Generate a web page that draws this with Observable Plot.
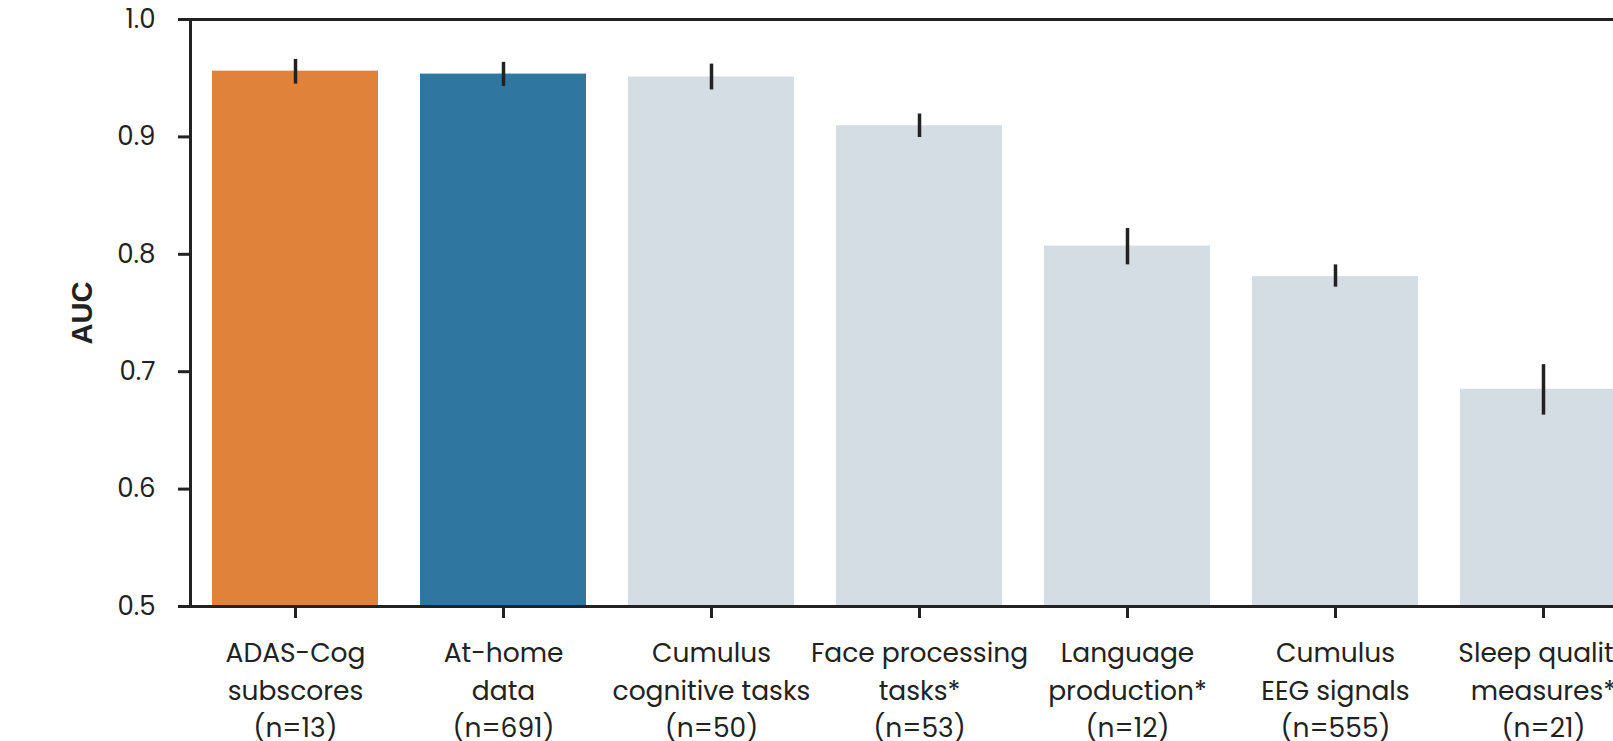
<!DOCTYPE html>
<html>
<head>
<meta charset="utf-8">
<script src="https://cdn.jsdelivr.net/npm/d3@7"></script>
<script src="https://cdn.jsdelivr.net/npm/@observablehq/plot@0.6"></script>
<style>
  html, body { margin: 0; padding: 0; background: #fff; overflow: hidden; }
  #chart svg { display: block; max-width: none !important; height: 741px !important; }
</style>
</head>
<body>
<div id="chart"></div>
<script>
// Feature groups and their cross-validated AUC (mean with CI bounds)
const categories = [
  "ADAS-Cog\nsubscores\n(n=13)",
  "At-home\ndata\n(n=691)",
  "Cumulus\ncognitive tasks\n(n=50)",
  "Face processing\ntasks*\n(n=53)",
  "Language\nproduction*\n(n=12)",
  "Cumulus\nEEG signals\n(n=555)",
  "Sleep quality\nmeasures*\n(n=21)"
];
const auc     = [0.956, 0.9535, 0.951, 0.9095, 0.807, 0.781, 0.685];
const ciLow   = [0.945, 0.943, 0.940, 0.8995, 0.791, 0.772, 0.663];
const ciHigh  = [0.966, 0.9635, 0.962, 0.9195, 0.822, 0.791, 0.706];
const barColors = ["#e1823a", "#2f77a1", "#d4dce4", "#d4dce4", "#d4dce4", "#d4dce4", "#d4dce4"];
const yTicks = [0.5, 0.6, 0.7, 0.8, 0.9, 1.0];

const data = categories.map((c, i) => ({
  cat: c, auc: auc[i], lo: ciLow[i], hi: ciHigh[i], color: barColors[i]
}));

const font = "Poppins, Inter, sans-serif";

const chart = Plot.plot({
  width: 1660,
  height: 741,
  marginLeft: 190,
  marginRight: 12,
  marginTop: 19,
  marginBottom: 135,
  style: { fontFamily: font, fontSize: "26px", color: "#222", background: "#fff" },
  x: { domain: categories, paddingInner: 0.2, paddingOuter: 0.1, label: null },
  y: { domain: [0.5, 1.0], label: null },
  marks: [
    Plot.barY(data, { x: "cat", y1: 0.5, y2: "auc", fill: "color" }),
    Plot.ruleX(data, { x: "cat", y1: "lo", y2: "hi", stroke: "#222", strokeWidth: 3.5 }),
    Plot.frame({ stroke: "#222", strokeWidth: 3 }),
    Plot.axisY({
      ticks: yTicks, tickFormat: d3.format(".1f"),
      tickSize: 12, tickPadding: 23, strokeWidth: 3, stroke: "#222",
      fill: "#222", fontSize: 26, label: null
    }),
    Plot.axisX({
      tickSize: 12, tickPadding: 17, strokeWidth: 3, stroke: "#222",
      fill: "#222", fontSize: 26.5, lineHeight: 1.42, label: null
    }),
    Plot.text(["AUC"], {
      frameAnchor: "left", dx: -108, rotate: -90, textAnchor: "middle",
      fontFamily: "Liberation Sans, Arial, sans-serif", fontWeight: "bold",
      fontSize: 29, fill: "#222"
    })
  ]
});

document.getElementById("chart").appendChild(chart);
</script>
</body>
</html>
